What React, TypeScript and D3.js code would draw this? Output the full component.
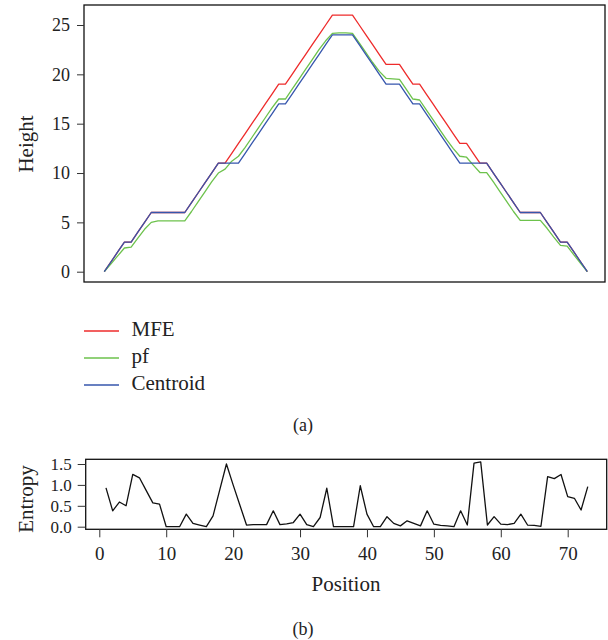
import React, { useEffect, useRef } from "react";
import * as d3 from "d3";

// mountain plot heights, positions 1..73
const mfe = [
  0, 1, 2, 3, 3, 4, 5, 6, 6, 6, 6, 6, 6, 7, 8, 9, 10, 11, 11, 12, 13, 14, 15, 16, 17, 18, 19, 19,
  20, 21, 22, 23, 24, 25, 26, 26, 26, 26, 25, 24, 23, 22, 21, 21, 21, 20, 19, 19, 18, 17, 16, 15,
  14, 13, 13, 12, 11, 11, 10, 9, 8, 7, 6, 6, 6, 6, 5, 4, 3, 3, 2, 1, 0,
];
const pf = [
  0, 0.8, 1.6, 2.4, 2.5, 3.4, 4.3, 5.0, 5.15, 5.16, 5.16, 5.16, 5.16, 6.1, 7.1, 8.1, 9.1, 10.0,
  10.4, 11.2, 11.7, 12.6, 13.6, 14.6, 15.6, 16.6, 17.5, 17.5, 18.5, 19.5, 20.5, 21.5, 22.5, 23.4,
  24.15, 24.2, 24.2, 24.15, 23.2, 22.2, 21.2, 20.3, 19.6, 19.55, 19.5, 18.5, 17.5, 17.4, 16.4, 15.4,
  14.4, 13.4, 12.5, 11.7, 11.6, 10.8, 10.05, 10.05, 9.1, 8.1, 7.1, 6.1, 5.2, 5.2, 5.2, 5.2, 4.4,
  3.5, 2.66, 2.6, 1.7, 0.85, 0,
];
const centroid = [
  0, 1, 2, 3, 3, 4, 5, 6, 6, 6, 6, 6, 6, 7, 8, 9, 10, 11, 11, 11, 11, 12, 13, 14, 15, 16, 17, 17,
  18, 19, 20, 21, 22, 23, 24, 24, 24, 24, 23, 22, 21, 20, 19, 19, 19, 18, 17, 17, 16, 15, 14, 13,
  12, 11, 11, 11, 11, 11, 10, 9, 8, 7, 6, 6, 6, 6, 5, 4, 3, 3, 2, 1, 0,
];
// positional entropy, positions 1..73
const entropy = [
  0.93, 0.38, 0.59, 0.5, 1.25, 1.17, 0.87, 0.57, 0.54, 0, 0, 0, 0.3, 0.08, 0.04, 0, 0.26, 0.88,
  1.5, 1.0, 0.52, 0.04, 0.05, 0.05, 0.05, 0.38, 0.05, 0.07, 0.1, 0.3, 0.05, 0, 0.22, 0.92, 0, 0,
  0, 0, 0.98, 0.3, 0, 0, 0.24, 0.08, 0.02, 0.14, 0.08, 0.02, 0.38, 0.06, 0.03, 0.02, 0, 0.38, 0.04,
  1.52, 1.55, 0.04, 0.24, 0.06, 0.05, 0.08, 0.3, 0.04, 0.03, 0.01, 1.2, 1.15, 1.25, 0.72, 0.68,
  0.4, 0.96,
];

const heightTicks = [0, 5, 10, 15, 20, 25];
const entropyTicks = [0, 0.5, 1.0, 1.5];
const positionTicks = [0, 10, 20, 30, 40, 50, 60, 70];
const seriesNames = ["MFE", "pf", "Centroid"];
const seriesColors = ["#ee2b2b", "#6dc24c", "#3656ad"];

const FONT = '"Liberation Serif", "Times New Roman", Times, serif';

const App = () => {
  const svgRef = useRef<SVGSVGElement>(null);

  useEffect(() => {
    const svg = d3.select(svgRef.current);
    svg.selectAll("*").remove();

    const label = (sel: any, size: number) =>
      sel.style("font-family", FONT).style("font-size", `${size}px`).attr("fill", "#222");

    // ---- top panel (a)
    const box1 = { left: 84, right: 605, top: 5, bottom: 282 };
    const x1 = d3.scaleLinear().domain([1, 73]).range([104.3, 587.3]);
    const y1 = d3.scaleLinear().domain([0, 25]).range([271.7, 25]);

    const line1 = d3
      .line<number>()
      .x((d, i) => x1(i + 1))
      .y((d) => y1(d));

    [mfe, pf, centroid].forEach((series, k) => {
      svg
        .append("path")
        .datum(series)
        .attr("d", line1)
        .attr("fill", "none")
        .attr("stroke", seriesColors[k])
        .attr("stroke-width", 1.3)
        .attr("stroke-linejoin", "round");
    });

    svg
      .append("rect")
      .attr("x", box1.left)
      .attr("y", box1.top)
      .attr("width", box1.right - box1.left)
      .attr("height", box1.bottom - box1.top)
      .attr("fill", "none")
      .attr("stroke", "#111")
      .attr("stroke-width", 1.3);

    const yAxis1 = svg
      .append("g")
      .attr("transform", `translate(${box1.left},0)`)
      .call(d3.axisLeft(y1).tickValues(heightTicks).tickSize(7).tickPadding(7).tickFormat(d3.format("d")));
    yAxis1.select(".domain").remove();
    yAxis1.selectAll("line").attr("stroke", "#333");
    label(yAxis1.selectAll("text"), 18);

    label(
      svg
        .append("text")
        .attr("transform", "translate(33,144) rotate(-90)")
        .attr("text-anchor", "middle")
        .text("Height"),
      21
    );

    // legend
    const legendY = [331, 358, 385];
    seriesNames.forEach((name, k) => {
      svg
        .append("line")
        .attr("x1", 84)
        .attr("x2", 119)
        .attr("y1", legendY[k])
        .attr("y2", legendY[k])
        .attr("stroke", seriesColors[k])
        .attr("stroke-width", 1.3);
      label(
        svg
          .append("text")
          .attr("x", 131.5)
          .attr("y", legendY[k] + 5)
          .text(name),
        21
      );
    });

    label(
      svg.append("text").attr("x", 303).attr("y", 431).attr("text-anchor", "middle").text("(a)"),
      18
    );

    // ---- bottom panel (b)
    const box2 = { left: 85.7, right: 606.7, top: 459.3, bottom: 529.3 };
    const x2 = d3.scaleLinear().domain([0, 70]).range([99.3, 567.7]);
    const y2 = d3.scaleLinear().domain([0, 1.5]).range([526.7, 464]);

    svg
      .append("path")
      .datum(entropy)
      .attr(
        "d",
        d3
          .line<number>()
          .x((d, i) => x2(i + 1))
          .y((d) => y2(d))
      )
      .attr("fill", "none")
      .attr("stroke", "#111")
      .attr("stroke-width", 1.3)
      .attr("stroke-linejoin", "round");

    svg
      .append("rect")
      .attr("x", box2.left)
      .attr("y", box2.top)
      .attr("width", box2.right - box2.left)
      .attr("height", box2.bottom - box2.top)
      .attr("fill", "none")
      .attr("stroke", "#111")
      .attr("stroke-width", 1.3);

    const yAxis2 = svg
      .append("g")
      .attr("transform", `translate(${box2.left},0)`)
      .call(d3.axisLeft(y2).tickValues(entropyTicks).tickSize(8).tickPadding(6).tickFormat(d3.format(".1f")));
    yAxis2.select(".domain").remove();
    yAxis2.selectAll("line").attr("stroke", "#333");
    label(yAxis2.selectAll("text"), 17);

    const xAxis2 = svg
      .append("g")
      .attr("transform", `translate(0,${box2.bottom})`)
      .call(d3.axisBottom(x2).tickValues(positionTicks).tickSize(8).tickPadding(9).tickFormat(d3.format("d")));
    xAxis2.select(".domain").remove();
    xAxis2.selectAll("line").attr("stroke", "#333");
    label(xAxis2.selectAll("text"), 19);

    label(
      svg
        .append("text")
        .attr("transform", "translate(33,499) rotate(-90)")
        .attr("text-anchor", "middle")
        .text("Entropy"),
      21
    );

    label(
      svg.append("text").attr("x", 346).attr("y", 591).attr("text-anchor", "middle").text("Position"),
      21
    );

    label(
      svg.append("text").attr("x", 303).attr("y", 635).attr("text-anchor", "middle").text("(b)"),
      18
    );
  }, []);

  return (
    <svg
      ref={svgRef}
      width={608}
      height={640}
      style={{ position: "absolute", left: 0, top: 0, background: "#fff" }}
    ></svg>
  );
};

export default App;
